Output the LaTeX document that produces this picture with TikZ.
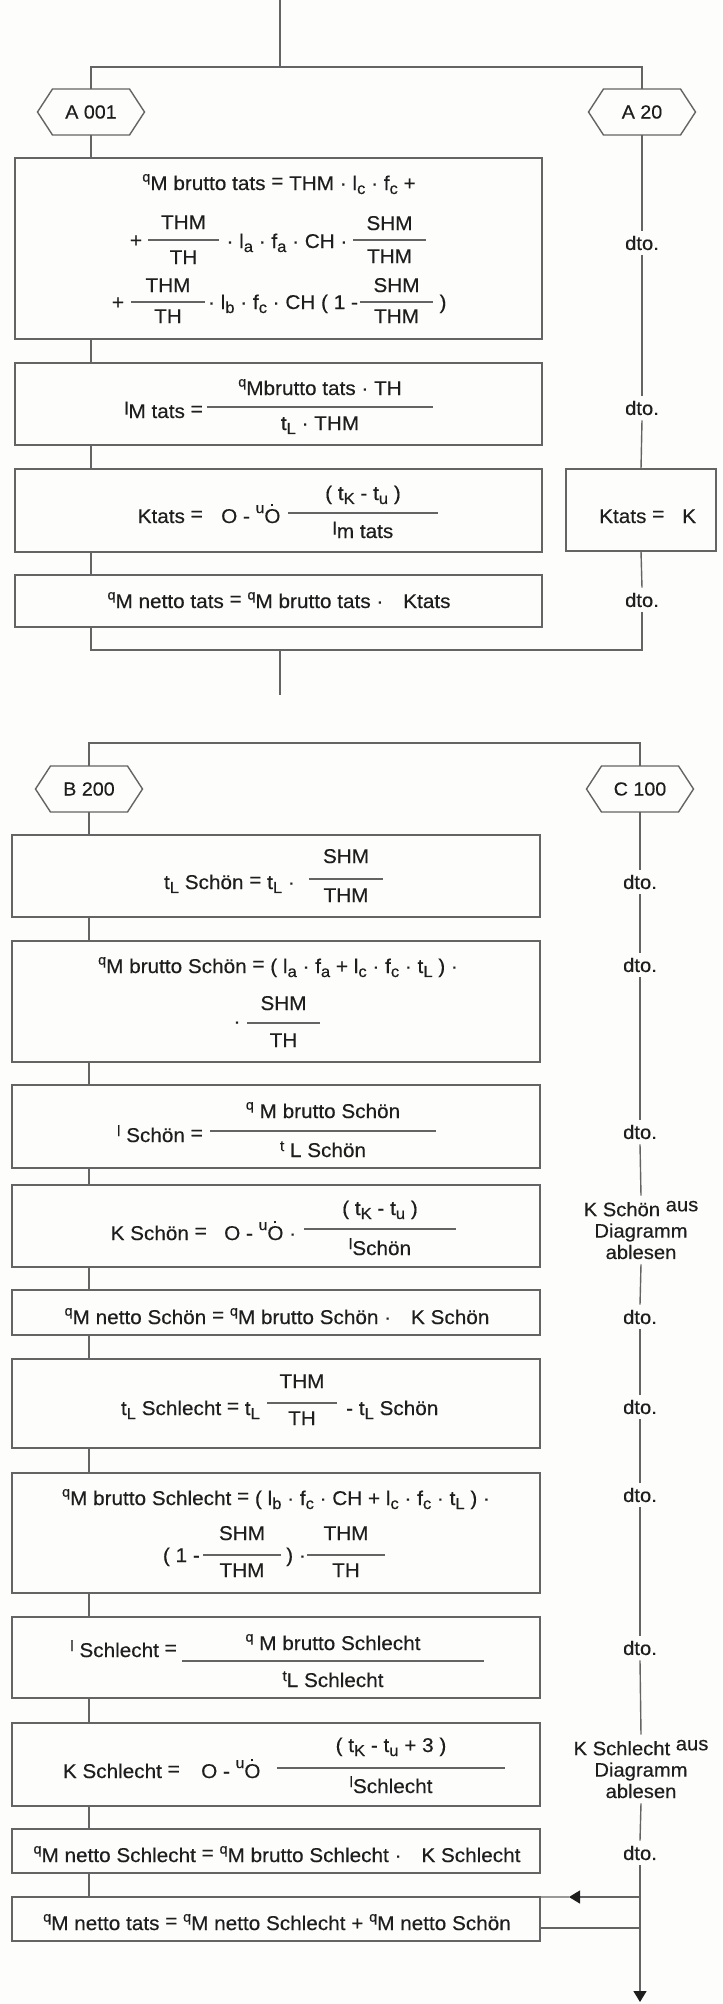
\documentclass[tikz,border=0pt]{standalone}
\usepackage{fontspec}
\setmainfont{Liberation Sans}[FakeBold=0.35, FakeStretch=1.04]
\usetikzlibrary{arrows.meta}

\definecolor{bgc}{RGB}{253,253,251}
\definecolor{inkc}{RGB}{30,30,30}
\definecolor{linec}{RGB}{100,100,100}

% small raised q of the quantity q_M
\newcommand{\qq}{\raisebox{.42em}{\fontsize{14}{14}\selectfont q}}
% lowered index
\newcommand{\sbx}[1]{\raisebox{-.2em}{\fontsize{16}{16}\selectfont #1}}
% small raised prefix letter
\newcommand{\prx}[1]{\raisebox{.3em}{\fontsize{15}{15}\selectfont #1}}
% slightly raised prefix letter
\newcommand{\prl}[1]{\raisebox{.17em}{\fontsize{18}{18}\selectfont #1}}
\newcommand{\pru}{\raisebox{.5em}{\fontsize{15}{15}\selectfont u}}
\newcommand{\eq}{\raisebox{.12em}{=}}
% O with a dot above it (the dot is a tiny rule)
\newcommand{\Odot}{\leavevmode\rlap{\kern.33em\raisebox{.84em}{\rule{.11em}{.11em}}}O}

% fraction: name, x-from, x-to, bar y, numerator, denominator, numerator baseline, denominator baseline
\newcommand{\fracat}[8]{%
  \coordinate (#1a) at (#2,#4);
  \coordinate (#1b) at (#3,#4);
  \draw[bar] (#1a) -- (#1b);
  \node[ftx, anchor=base] (#1n) at ({(#2+#3)/2},#7) {#5};
  \node[ftx, anchor=base] (#1d) at ({(#2+#3)/2},#8) {#6};
}
% hexagonal frame round a connector node
\newcommand{\hexout}[1]{%
  \draw[ln] ([xshift=15bp]#1.north west) -- ([xshift=-15bp]#1.north east) -- (#1.east)
    -- ([xshift=-15bp]#1.south east) -- ([xshift=15bp]#1.south west) -- (#1.west) -- cycle;}

\tikzset{
  ln/.style={draw=linec, line width=1.4bp},
  bar/.style={draw=linec, line width=1.1bp},
  box/.style={ln, rectangle, inner sep=0pt, outer sep=0pt},
  hexnode/.style={rectangle, inner sep=0pt, outer sep=0pt, minimum width=107bp, minimum height=46bp,
    font=\fontsize{19}{22}\selectfont, text=inkc},
  ftx/.style={inner sep=0pt, font=\fontsize{20}{24}\selectfont, text=inkc},
  lbl/.style={inner sep=5bp, font=\fontsize{19.5}{21.5}\selectfont, align=center, text=inkc},
  tipl/.style={-{Triangle[length=11bp,width=13bp,color=inkc]}},
}

\begin{document}
\begin{tikzpicture}[x=1bp,y=-1bp]
\fill[bgc] (0,0) rectangle (723,2004);
\useasboundingbox (0,0) rectangle (723,2004);

% ---------------- part A ----------------
\node[hexnode] (A001) at (91,112) {A 001};
\node[hexnode] (A20) at (642,112) {A 20};
\hexout{A001}
\hexout{A20}

\node[box, minimum width=527bp, minimum height=181bp] (A1) at (278.5,248.5) {};
\node[box, minimum width=527bp, minimum height=82bp] (A2) at (278.5,404) {};
\node[box, minimum width=527bp, minimum height=83bp] (A3) at (278.5,510.5) {};
\node[box, minimum width=527bp, minimum height=52bp] (A4) at (278.5,601) {};
\node[box, minimum width=150bp, minimum height=82bp] (KR) at (641,510) {};

% A1
\node[ftx, anchor=base] (a1l1) at (279,190) {\qq M brutto tats \eq\ THM · l\sbx{c} · f\sbx{c} +};
\node[ftx, anchor=base] (a1p1) at (136,247) {+};
\fracat{fa}{148}{219}{240}{THM}{TH}{229}{264}
\node[ftx, anchor=base] (a1m1) at (287,248) {· l\sbx{a} · f\sbx{a} · CH ·};
\fracat{fb}{353}{426}{240}{SHM}{THM}{230}{263}
\node[ftx, anchor=base] (a1p2) at (118,309) {+};
\fracat{fc}{131}{205}{302}{THM}{TH}{292}{323}
\node[ftx, anchor=base] (a1m2) at (283,309) {· l\sbx{b} · f\sbx{c} · CH ( 1 -};
\fracat{fd}{360}{433}{302}{SHM}{THM}{292}{323}
\node[ftx, anchor=base] (a1r2) at (443,309) {)};

% A2
\node[ftx, anchor=base east] (a2l) at (203,418) {\prl{l}M tats \eq};
\fracat{fe}{207}{433}{407}{\qq Mbrutto tats · TH}{t\sbx{L} · THM}{395}{430}

% A3
\node[ftx, anchor=base east] (a3l) at (203,523) {Ktats \eq};
\node[ftx, anchor=base west] (a3o) at (221,523) {O - \pru\Odot};
\fracat{ff}{288}{438}{513}{( t\sbx{K} - t\sbx{u} )}{\prl{l}m tats}{500}{538}

% right box
\node[ftx, anchor=base west] (kr1) at (599,523) {Ktats \eq};
\node[ftx, anchor=base west] (kr2) at (682,523) {K};

% A4
\node[ftx, anchor=base] (a4t) at (279,608) {\qq M netto tats \eq\ \qq M brutto tats ·\quad Ktats};

% right column of part A
\node[lbl] (dA1) at (642,243) {dto.};
\node[lbl] (dA2) at (642,408) {dto.};
\node[lbl] (dA3) at (642,600) {dto.};

% connectors of part A
\coordinate (topA) at (280,0);
\coordinate (jA) at (280,67);
\coordinate (jA2) at (280,650);
\coordinate (endA) at (280,695);
\draw[ln] (topA) -- (jA);
\draw[ln] (A001.north) |- (jA) -| (A20.north);
\draw[ln] (A001.south) -- (A1.north -| A001.south);
\draw[ln] (A1.south -| A001) -- (A2.north -| A001);
\draw[ln] (A2.south -| A001) -- (A3.north -| A001);
\draw[ln] (A3.south -| A001) -- (A4.north -| A001);
\draw[ln] (A4.south -| A001) |- (jA2) -| (dA3.south);
\draw[ln] (jA2) -- (endA);
\draw[ln] (A20.south) -- (dA1.north);
\draw[ln] (dA1.south) -- (dA2.north);
\draw[ln] (dA2.south) -- (KR.north);
\draw[ln] (KR.south) -- (dA3.north);

% ---------------- part B ----------------
\node[hexnode] (B200) at (89,789) {B 200};
\node[hexnode] (C100) at (640,789) {C 100};
\hexout{B200}
\hexout{C100}

\node[box, minimum width=528bp, minimum height=82bp] (B1) at (276,876) {};
\node[box, minimum width=528bp, minimum height=121bp] (B2) at (276,1001.5) {};
\node[box, minimum width=528bp, minimum height=83bp] (B3) at (276,1126.5) {};
\node[box, minimum width=528bp, minimum height=82bp] (B4) at (276,1226) {};
\node[box, minimum width=528bp, minimum height=45bp] (B5) at (276,1312.5) {};
\node[box, minimum width=528bp, minimum height=89bp] (B6) at (276,1403.5) {};
\node[box, minimum width=528bp, minimum height=120bp] (B7) at (276,1533) {};
\node[box, minimum width=528bp, minimum height=81bp] (B8) at (276,1657.5) {};
\node[box, minimum width=528bp, minimum height=83bp] (B9) at (276,1764.5) {};
\node[box, minimum width=528bp, minimum height=44bp] (B10) at (276,1851) {};
\node[box, minimum width=528bp, minimum height=44bp] (B11) at (276,1919) {};

% B1
\node[ftx, anchor=base east] (b1l) at (295,889) {t\sbx{L} Schön \eq\ t\sbx{L} ·};
\fracat{fg}{309}{383}{879}{SHM}{THM}{863}{902}
% B2
\node[ftx, anchor=base] (b2l1) at (278,973) {\qq M brutto Schön \eq\ ( l\sbx{a} · f\sbx{a} + l\sbx{c} · f\sbx{c} · t\sbx{L} ) ·};
\node[ftx, anchor=base] (b2d) at (237,1028) {·};
\fracat{fh}{247}{320}{1023}{SHM}{TH}{1010}{1047}
% B3
\node[ftx, anchor=base east] (b3l) at (203,1142) {\prx{l} Schön \eq};
\fracat{fi}{210}{436}{1131}{\qq\ M brutto Schön}{\prx{t} L Schön}{1118}{1157}
% B4
\node[ftx, anchor=base east] (b4l) at (207,1240) {K Schön \eq};
\node[ftx, anchor=base west] (b4o) at (224,1240) {O - \pru\Odot\ ·};
\fracat{fj}{304}{456}{1229}{( t\sbx{K} - t\sbx{u} )}{\prx{l}Schön}{1215}{1255}
% B5
\node[ftx, anchor=base] (b5t) at (277,1324) {\qq M netto Schön \eq\ \qq M brutto Schön ·\quad K Schön};
% B6
\node[ftx, anchor=base east] (b6l) at (260,1415) {t\sbx{L} Schlecht \eq\ t\sbx{L}};
\fracat{fk}{267}{337}{1403}{THM}{TH}{1388}{1425}
\node[ftx, anchor=base west] (b6r) at (346,1415) {- t\sbx{L} Schön};
% B7
\node[ftx, anchor=base] (b7l1) at (276,1505) {\qq M brutto Schlecht \eq\ ( l\sbx{b} · f\sbx{c} · CH + l\sbx{c} · f\sbx{c} · t\sbx{L} ) ·};
\node[ftx, anchor=base east] (b7a) at (200,1562) {( 1 -};
\fracat{fl}{203}{281}{1555}{SHM}{THM}{1540}{1577}
\node[ftx, anchor=base west] (b7b) at (286,1562) {) ·};
\fracat{fm}{307}{385}{1555}{THM}{TH}{1540}{1577}
% B8
\node[ftx, anchor=base east] (b8l) at (177,1657) {\prx{l} Schlecht \eq};
\fracat{fn}{182}{484}{1661}{\qq\ M brutto Schlecht}{\prx{t}L Schlecht}{1650}{1687}
% B9
\node[ftx, anchor=base east] (b9l) at (180,1778) {K Schlecht \eq};
\node[ftx, anchor=base west] (b9o) at (201,1778) {O - \pru\Odot};
\fracat{fo}{277}{505}{1768}{( t\sbx{K} - t\sbx{u} + 3 )}{\prx{l}Schlecht}{1752}{1793}
% B10
\node[ftx, anchor=base] (b10t) at (277,1862) {\qq M netto Schlecht \eq\ \qq M brutto Schlecht ·\quad K Schlecht};
% B11
\node[ftx, anchor=base] (b11t) at (277,1930) {\qq M netto tats \eq\ \qq M netto Schlecht + \qq M netto Schön};

% right column of part B
\node[lbl] (dB1) at (640,882) {dto.};
\node[lbl] (dB2) at (640,965) {dto.};
\node[lbl] (dB3) at (640,1132) {dto.};
\node[lbl] (kS) at (641,1230) {K Schön \raisebox{.25em}{aus}\\Diagramm\\ablesen};
\node[lbl] (dB5) at (640,1317) {dto.};
\node[lbl] (dB6) at (640,1407) {dto.};
\node[lbl] (dB7) at (640,1495) {dto.};
\node[lbl] (dB8) at (640,1648) {dto.};
\node[lbl] (kL) at (641,1769) {K Schlecht \raisebox{.25em}{aus}\\Diagramm\\ablesen};
\node[lbl] (dB10) at (640,1853) {dto.};

% connectors of part B
\coordinate (bL) at (89,743);
\coordinate (bR) at (640,743);
\draw[ln] (B200.north) -- (bL) -- (bR) -- (C100.north);
\draw[ln] (B200.south) -- (B1.north -| B200.south);
\foreach \u/\v in {B1/B2,B2/B3,B3/B4,B4/B5,B5/B6,B6/B7,B7/B8,B8/B9,B9/B10,B10/B11}
  \draw[ln] (\u.south -| B200) -- (\v.north -| B200);
\draw[ln] (C100.south) -- (dB1.north);
\foreach \u/\v in {dB1/dB2,dB2/dB3,dB3/kS,kS/dB5,dB5/dB6,dB6/dB7,dB7/dB8,dB8/kL,kL/dB10}
  \draw[ln] (\u.south) -- (\v.north);
\coordinate (endB) at (640,2002);
\draw[ln, tipl] (dB10.south) -- (endB);
\coordinate (rJ1) at (640,1897);
\coordinate (rTip) at (569,1897);
\coordinate (rJ2) at (640,1928);
\draw[ln, tipl] (rJ1) -- (rTip);
\draw[ln] (rTip) -- (B11.north east);
\draw[ln] (B11.east |- rJ2) -- (rJ2);
\end{tikzpicture}
\end{document}
